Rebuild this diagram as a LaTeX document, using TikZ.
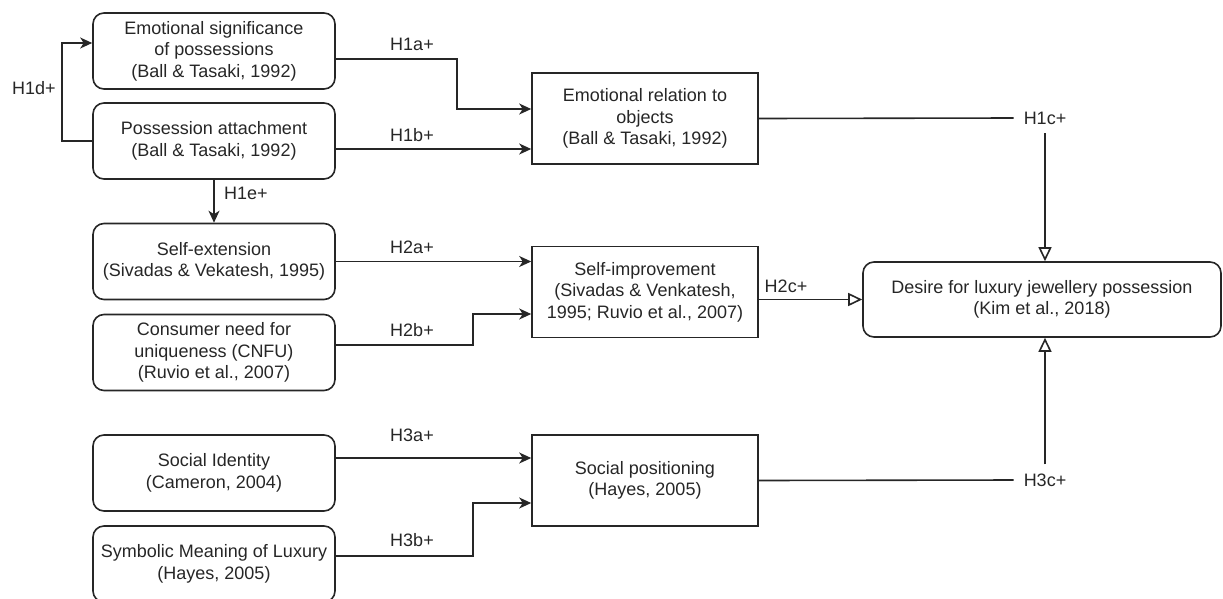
\documentclass[tikz,border=0pt]{standalone}
\usepackage{fontspec}
\setmainfont{Liberation Sans}
\usetikzlibrary{arrows.meta,calc}
\definecolor{ink}{HTML}{262626}
\begin{document}
\begin{tikzpicture}[x=1pt,y=-1pt,
  txt/.style={text=ink, font=\fontsize{18}{21.6}\selectfont, align=center, inner sep=0pt},
  base/.style={txt, draw=ink, line width=1.6pt},
  src/.style={base, rounded corners=11pt, minimum width=242pt, minimum height=76pt},
  mid/.style={base, minimum width=226pt, minimum height=91pt},
  hyp/.style={txt},
  plain/.style={draw=ink, line width=1.6pt},
  link/.style={plain, -{Stealth[length=12pt,width=11pt,inset=3.5pt]}},
  toout/.style={plain, -{Triangle[open,length=14pt,width=13pt,fill=white]}}]
\useasboundingbox (0,0) rectangle (1223,598);

% antecedent constructs
\node[src] (esp)  at (214,51)    {Emotional significance\\of possessions\\(Ball \& Tasaki, 1992)};
\node[src] (pa)   at (214,141)   {Possession attachment\\(Ball \& Tasaki, 1992)};
\node[src] (se)   at (214,261.5) {Self-extension\\(Sivadas \& Vekatesh, 1995)};
\node[src] (cnfu) at (214,352.5) {Consumer need for\\uniqueness (CNFU)\\(Ruvio et al., 2007)};
\node[src] (si)   at (214,473)   {Social Identity\\(Cameron, 2004)};
\node[src] (sml)  at (214,564)   {Symbolic Meaning of Luxury\\(Hayes, 2005)};

% mediating constructs
\node[mid] (erto) at (645,118.5) {Emotional relation to\\objects\\(Ball \& Tasaki, 1992)};
\node[mid] (simp) at (645,292)   {Self-improvement\\(Sivadas \& Venkatesh,\\1995; Ruvio et al., 2007)};
\node[mid] (sp)   at (645,480.5) {Social positioning\\(Hayes, 2005)};

% outcome
\node[src, minimum width=358pt, minimum height=75pt] (desire) at (1042,299.5)
  {Desire for luxury jewellery possession\\(Kim et al., 2018)};

% hypothesis labels
\node[hyp] (l1a) at (412,44)  {H1a+};
\node[hyp] (l1b) at (412,135) {H1b+};
\node[hyp] (l1c) at (1045,118) {H1c+};
\node[hyp] (l1d) at (34,88)   {H1d+};
\node[hyp] (l1e) at (246,193) {H1e+};
\node[hyp] (l2a) at (412,247) {H2a+};
\node[hyp] (l2b) at (412,330) {H2b+};
\node[hyp] (l2c) at (786,286) {H2c+};
\node[hyp] (l3a) at (412,435) {H3a+};
\node[hyp] (l3b) at (412,540) {H3b+};
\node[hyp] (l3c) at (1045,480) {H3c+};

% connector end points
\path ($(esp.east)+(0,8)$)     coordinate (h1aS)
      ($(erto.west)+(0,-9.5)$) coordinate (h1aE)
      ($(pa.east)+(0,8)$)      coordinate (h1bS)
      ($(esp.west)+(0,-8)$)    coordinate (h1dE)
      ($(cnfu.east)+(0,-7.5)$) coordinate (h2bS)
      ($(simp.west)+(0,22)$)   coordinate (h2bE)
      ($(simp.east)+(0,7.5)$)  coordinate (h2cS)
      ($(si.east)+(0,-15)$)    coordinate (h3aS)
      ($(sml.east)+(0,-8)$)    coordinate (h3bS)
      ($(sp.west)+(0,22.5)$)   coordinate (h3bE)
      ($(l1c.west)+(-10,0)$)   coordinate (h1cE)
      ($(l1c.south)+(0,9)$)    coordinate (h1cS)
      ($(l3c.west)+(-10,0)$)   coordinate (h3cE)
      ($(l3c.north)+(0,-9)$)   coordinate (h3cS);

% H1 paths
\draw[link] (h1aS) -- ++(121,0) |- (h1aE);
\draw[link] (h1bS) -- (h1bS -| erto.west);
\draw[link] (pa.west) -- ++(-30,0) |- (h1dE);
\draw[link] (pa.south) -- (se.north);
\draw[plain] (erto.east) -- (h1cE);
\draw[toout] (h1cS) -- (desire.north -| h1cS);

% H2 paths
\draw[link] (se.east) -- (se.east -| simp.west);
\draw[link] (h2bS) -- ++(137,0) |- (h2bE);
\draw[toout] (h2cS) -- (h2cS -| desire.west);

% H3 paths
\draw[link] (h3aS) -- (h3aS -| sp.west);
\draw[link] (h3bS) -- ++(137,0) |- (h3bE);
\draw[plain] (sp.east) -- (h3cE);
\draw[toout] (h3cS) -- (desire.south -| h3cS);
\end{tikzpicture}
\end{document}
